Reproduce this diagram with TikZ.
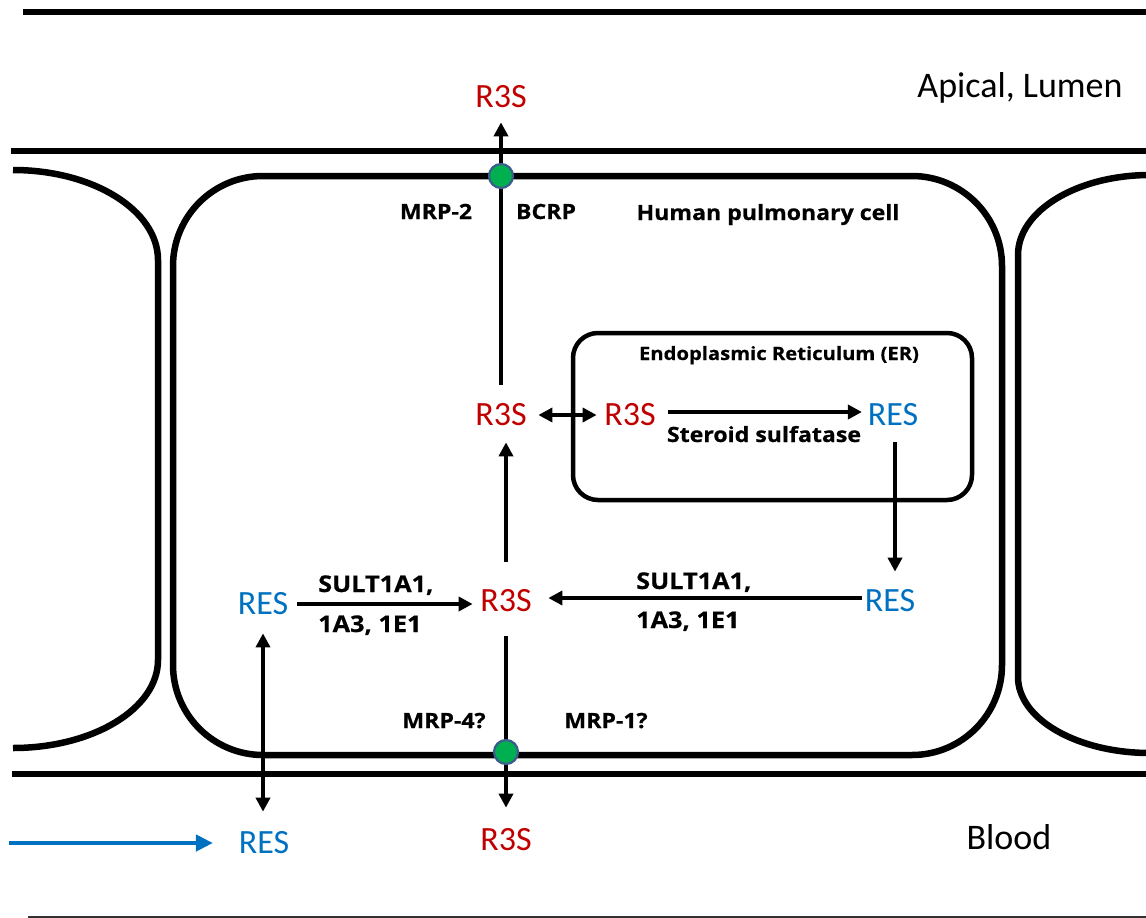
\documentclass[tikz,border=0pt]{standalone}
\usepackage{fontspec}
\newfontfamily\calib{Carlito}
\newfontfamily\labf[FakeStretch=1.10, FakeBold=0.6]{Open Sans}
\usetikzlibrary{arrows.meta}
\definecolor{rthree}{RGB}{192,0,0}
\definecolor{resblue}{RGB}{0,112,192}
\definecolor{tpgreen}{RGB}{0,176,80}
\definecolor{tpedge}{RGB}{60,92,140}
\definecolor{thinline}{RGB}{50,50,50}
\tikzset{
  memb/.style={line width=6pt},
  cellline/.style={line width=6.5pt},
  erbox/.style={line width=4.5pt, rounded corners=25pt},
  redtxt/.style={font=\calib\fontsize{34}{40}\selectfont, text=rthree, inner sep=0pt},
  bluetxt/.style={font=\calib\fontsize{34}{40}\selectfont, text=resblue, inner sep=0pt},
  regtxt/.style={font=\calib\fontsize{36}{42}\selectfont, inner sep=0pt, anchor=base},
  lab/.style={font=\labf\bfseries\fontsize{21}{25}\selectfont, inner sep=0pt, anchor=base},
  labbig/.style={font=\labf\bfseries\fontsize{23}{27}\selectfont, inner sep=0pt, anchor=base west},
  labsmall/.style={font=\labf\bfseries\fontsize{18.4}{22}\selectfont, inner sep=0pt, anchor=base},
  arr/.style={line width=4.2pt, -{Triangle[width=14pt,length=14pt]}},
  darr/.style={line width=4.2pt, {Triangle[width=14pt,length=14pt]}-{Triangle[width=14pt,length=14pt]}},
  barr/.style={line width=4.5pt, draw=resblue, -{Triangle[width=16pt,length=17pt]}},
  tp/.style={circle, minimum size=24pt, inner sep=0pt, fill=tpgreen, draw=tpedge, line width=2.2pt}
}
\begin{document}
\begin{tikzpicture}[x=1pt,y=-1pt]
\useasboundingbox (0,0) rectangle (1146,918);
% membranes
\draw[memb] (23,12) -- (1150,12);
\draw[memb] (11,151) -- (1150,151);
\draw[memb] (12,774) -- (1150,774);
\draw[line width=2pt, draw=thinline] (28,917) -- (1150,917);
% left neighbouring cell
\draw[cellline] (13,170) arc[start angle=90, end angle=0, x radius=145pt, y radius=90pt]
  -- (158,660) arc[start angle=0, end angle=-90, x radius=145pt, y radius=88pt];
% right neighbouring cell
\draw[cellline] (1150,175) arc[start angle=90, end angle=180, x radius=132pt, y radius=80pt]
  -- (1018,677) arc[start angle=180, end angle=270, x radius=132pt, y radius=76pt];
% central cell
\draw[cellline, rounded corners=90pt] (173,176) rectangle (1002,755);
% ER
\draw[erbox] (573,333) rectangle (972,500);
% texts
\node[regtxt] (apical) at (1020,97) {Apical, Lumen};
\node[regtxt] (blood) at (1009,849) {Blood};
\node[lab] (mrp2) at (436,219) {MRP-2};
\node[lab] (bcrp) at (546,219) {BCRP};
\node[lab] (cell) at (768,220) {Human pulmonary cell};
\node[labsmall] (erlab) at (779,360) {Endoplasmic Reticulum (ER)};
\node[lab] (sts) at (764,442) {Steroid sulfatase};
\node[labbig] (sultLa) at (318,592) {SULT1A1,};
\node[labbig] (sultLb) at (318,632) {1A3, 1E1};
\node[labbig] (sultRa) at (636,589) {SULT1A1,};
\node[labbig] (sultRb) at (636,628) {1A3, 1E1};
\node[lab] (mrp4) at (444,728) {MRP-4?};
\node[lab] (mrp1) at (606,728) {MRP-1?};
\node[redtxt] (r3sTop) at (501,97) {R3S};
\node[redtxt] (r3sE) at (501,415) {R3S};
\node[redtxt] (r3sER) at (630,415) {R3S};
\node[bluetxt] (resER) at (893,415) {RES};
\node[redtxt] (r3sM) at (506,601) {R3S};
\node[bluetxt] (resL) at (263,604) {RES};
\node[bluetxt] (resR) at (890,601) {RES};
\node[redtxt] (r3sB) at (506,840) {R3S};
\node[bluetxt] (resB) at (264,843) {RES};
\coordinate (bstart) at (9,843);
% connectors
\draw[arr, shorten <=19pt, shorten >=14pt] (r3sE.north) -- (r3sTop.south);
\draw[darr, shorten <=11.5pt, shorten >=7.5pt] (r3sE.east) -- (r3sER.west);
\draw[arr, shorten <=12.5pt, shorten >=5.7pt] ([yshift=3pt]r3sER.east) -- ([yshift=3pt]resER.west);
\draw[arr, shorten <=16pt, shorten >=18pt] ([xshift=2pt]resER.south) -- ([xshift=2pt]resER.south |- resR.north);
\draw[arr, shorten <=2.7pt, shorten >=16.5pt] ([yshift=3pt]resR.west) -- ([yshift=3pt]r3sM.east);
\draw[arr, shorten <=8.7pt, shorten >=7.5pt] (resL.east) -- (resL.east -| r3sM.west);
\draw[arr, shorten <=28pt, shorten >=16pt] (r3sM.north) -- (r3sM.north |- r3sE.south);
\draw[arr, shorten <=24pt, shorten >=21pt] (r3sM.south) -- (r3sM.south |- r3sB.north);
\draw[darr, shorten <=18pt, shorten >=20pt] (resL.south) -- (resL.south |- resB.north);
\draw[barr, shorten >=25.7pt] (bstart) -- (resB.west);
% transporters
\node[tp] (tpTop) at (501,176) {};
\node[tp] (tpBot) at (506,752) {};
\end{tikzpicture}
\end{document}
